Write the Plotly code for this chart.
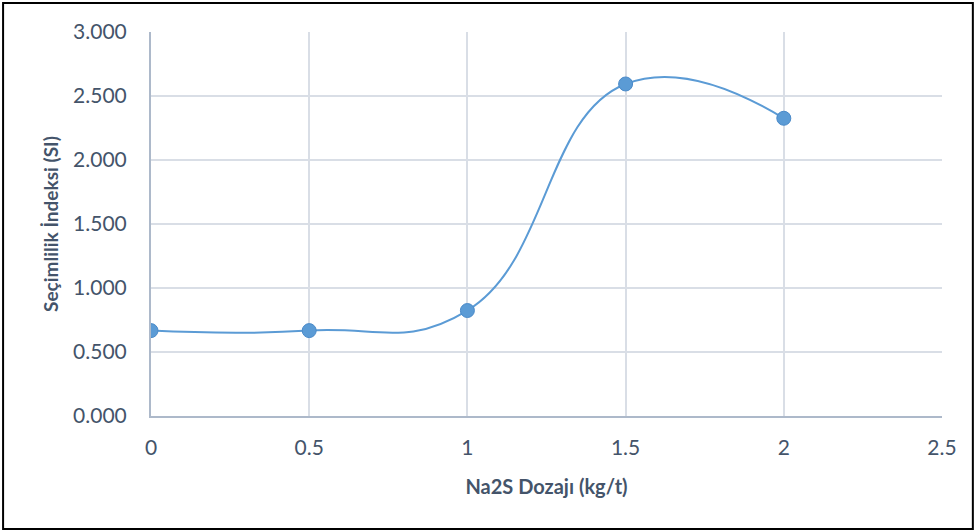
import plotly.graph_objects as go

dose = [0, 0.5, 1, 1.5, 2]
si = [0.667, 0.667, 0.824, 2.594, 2.326]
x_ticks = [0, 0.5, 1, 1.5, 2, 2.5]
x_labels = ["0", "0.5", "1", "1.5", "2", "2.5"]
y_ticks = [0, 0.5, 1.0, 1.5, 2.0, 2.5, 3.0]
y_labels = ["0.000", "0.500", "1.000", "1.500", "2.000", "2.500", "3.000"]

text_color = "#44546A"
font_family = "Lato, Open Sans, sans-serif"

fig = go.Figure()
fig.add_trace(go.Scatter(
    x=dose, y=si, mode="lines+markers",
    line=dict(color="#5B9BD5", width=2, shape="spline", smoothing=1.3),
    marker=dict(color="#5B9BD5", size=14, line=dict(color="#4A8AC9", width=1)),
    showlegend=False,
))

fig.update_layout(
    width=975, height=531,
    margin=dict(l=151, r=33, t=32, b=115),
    paper_bgcolor="white", plot_bgcolor="white",
    font=dict(family=font_family, color=text_color, size=21),
    xaxis=dict(
        range=[0, 2.5], tickvals=x_ticks, ticktext=x_labels,
        showgrid=True, gridcolor="#D9DEE6", gridwidth=1.5,
        showline=True, linecolor="#ADB9CA", linewidth=2,
        zeroline=False, ticks="", ticklen=0, ticklabelstandoff=12,
        tickfont=dict(size=21, color=text_color),
        title=dict(text="<b>Na2S Dozajı (kg/t)</b>", font=dict(size=20, color=text_color), standoff=22),
    ),
    yaxis=dict(
        range=[0, 3.0], tickvals=y_ticks, ticktext=y_labels,
        showgrid=True, gridcolor="#D9DEE6", gridwidth=1.5,
        showline=True, linecolor="#ADB9CA", linewidth=2,
        zeroline=False, ticks="", ticklen=0, ticklabelstandoff=18,
        tickfont=dict(size=21, color=text_color),
        title=dict(text="<b>Seçimlilik İndeksi (SI)</b>", font=dict(size=19, color=text_color), standoff=9),
    ),
)

fig.add_shape(type="rect", xref="paper", yref="paper",
              x0=-0.187, x1=1.039, y0=-0.294, y1=1.0755,
              line=dict(color="black", width=2), fillcolor="rgba(0,0,0,0)", layer="below")

fig.write_html("out.html")
